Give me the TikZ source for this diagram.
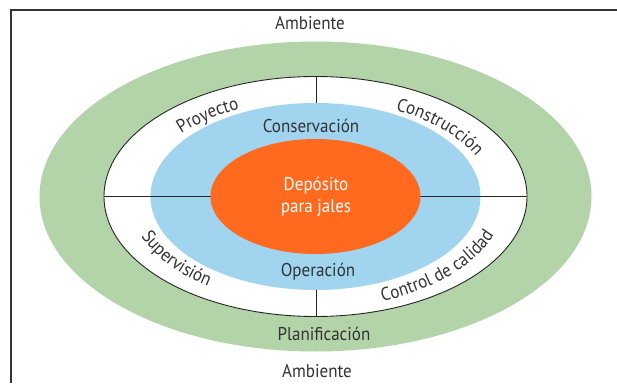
\documentclass[tikz,border=0pt]{standalone}
\usepackage{fontspec}
\setmainfont{PT Sans}[FakeStretch=0.92]
\usetikzlibrary{decorations.text,calc}
\definecolor{ringgreen}{HTML}{B3D3A8}
\definecolor{ringblue}{HTML}{A0D4EF}
\definecolor{coreorange}{HTML}{FF6A1F}
\definecolor{textgray}{HTML}{333333}
\newcommand\lblfont{\fontsize{18.5}{21.6}\selectfont}
\tikzset{
  lbl/.style={font=\lblfont, text=textgray, inner sep=0pt, anchor=base},
  ringline/.style={draw=black!85, line width=0.9pt},
  framestyle/.style={draw=black!80, line width=1.2pt},
  curvedlbl/.style={decorate, decoration={text along path, text align=center,
      text color=textgray, text={|\lblfont|#1}}}
}
\begin{document}
\begin{tikzpicture}[x=1pt,y=1pt]
\useasboundingbox (0,0) rectangle (617,383);
% frame
\coordinate (fbl) at (11,0);
\coordinate (ftl) at (11,373);
\coordinate (ftr) at (617,373);
\draw[framestyle] (fbl) -- (ftl) -- (ftr);
% centre
\coordinate (C) at (315.5,186.5);
% rings
\fill[ringgreen] (C) ellipse [x radius=276, y radius=155];
\filldraw[fill=white, draw=black!85, line width=0.9pt] (C) ellipse [x radius=211.5, y radius=120];
\coordinate (vt) at ($(C)+(0.5,120)$);
\coordinate (vb) at ($(C)+(0.5,-120)$);
\draw[ringline] (vt) -- (vb);
\fill[ringblue] (C) ellipse [x radius=165, y radius=93.5];
\coordinate (hl) at ($(C)+(-211.5,0)$);
\coordinate (hr) at ($(C)+(211.5,0)$);
\draw[ringline] (hl) -- (hr);
\fill[coreorange] (C) ellipse [x radius=105, y radius=57.5];
% straight labels
\node[lbl] (amb1) at (310,353) {Ambiente};
\node[lbl] (cons) at (311,250) {Conservación};
\node[lbl, text=white, align=center, anchor=center] (dep) at (316,186) {Depósito\\para jales};
\node[lbl] (oper) at (318,107) {Operación};
\node[lbl] (plan) at (324,43) {Planificación};
\node[lbl] (amb2) at (317,6) {Ambiente};
% curved labels
\path[curvedlbl=Proyecto] ($(C)+(160:176 and 97)$) arc [start angle=160, end angle=101, x radius=176, y radius=97];
\path[curvedlbl=Construcción] ($(C)+(72:176 and 97)$) arc [start angle=72, end angle=10, x radius=176, y radius=97];
\path[curvedlbl=Supervisión] ($(C)+(185:187 and 110)$) arc [start angle=185, end angle=246, x radius=187, y radius=110];
\path[curvedlbl=Control de calidad] ($(C)+(281:190 and 112)$) arc [start angle=281, end angle=355, x radius=190, y radius=112];
\end{tikzpicture}
\end{document}
